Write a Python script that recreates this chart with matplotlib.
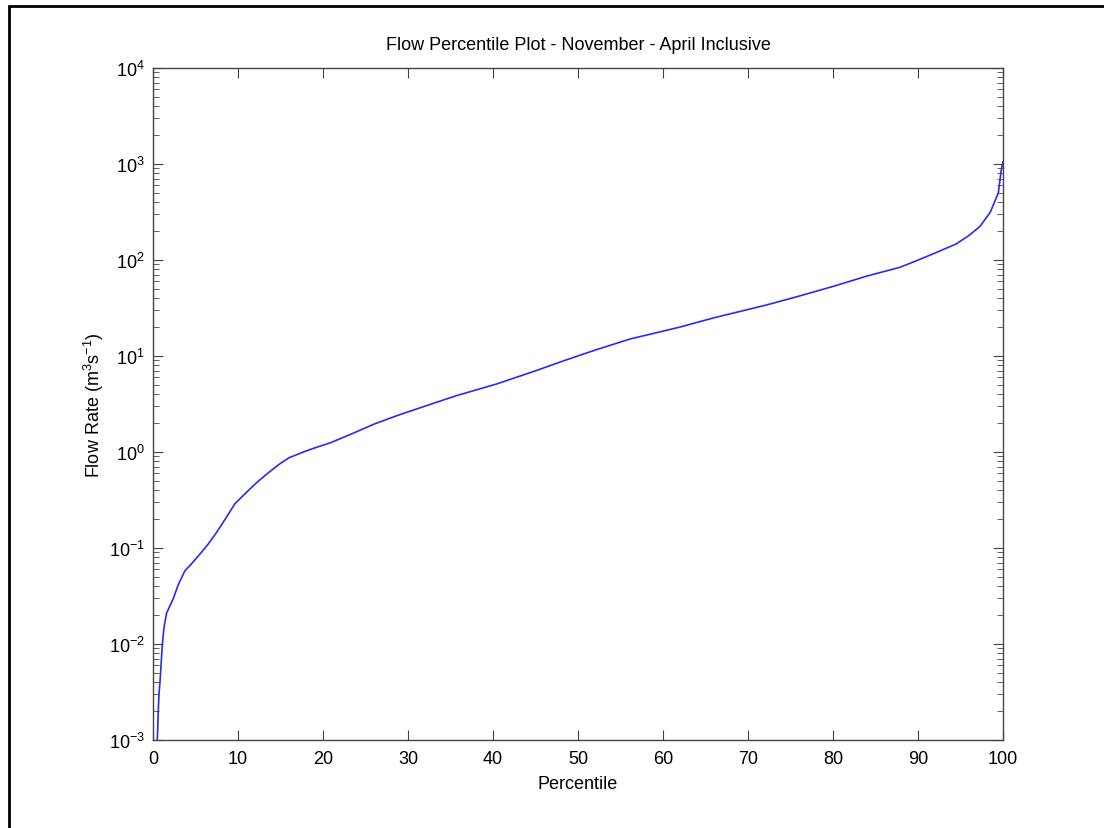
import matplotlib
matplotlib.use('Agg')
from matplotlib import pyplot as plt
from matplotlib.patches import Rectangle
from matplotlib.ticker import LogLocator, NullFormatter

plt.rcParams['font.family'] = ['Liberation Sans', 'DejaVu Sans']
plt.rcParams['mathtext.fontset'] = 'custom'
plt.rcParams['mathtext.rm'] = 'Liberation Sans'
plt.rcParams['mathtext.it'] = 'Liberation Sans'
plt.rcParams['axes.unicode_minus'] = False

# percentile vs flow rate
percentile = [0.5, 0.55, 0.62, 0.7, 0.82, 1.1, 1.3, 1.6, 2.0, 2.4, 3.0, 3.76, 4.5,
              5.7, 6.5, 7.5, 8.5, 9.65, 11.0, 12.2, 13.5, 14.9, 16.0, 17.7, 19.0,
              20.8, 23.2, 26.0, 28.7, 32.0, 35.7, 40.4, 45.0, 48.3, 52.0, 56.1,
              62.0, 66.0, 72.2, 76.0, 80.0, 84.0, 87.9, 89.8, 92.0, 94.5, 96.0,
              97.3, 98.5, 99.0, 99.45, 99.65, 99.8, 100.0]
flow = [0.001, 0.0013, 0.002, 0.003, 0.004, 0.01, 0.015, 0.021, 0.025, 0.03, 0.042,
        0.058, 0.068, 0.09, 0.11, 0.146, 0.2, 0.29, 0.38, 0.48, 0.6, 0.75, 0.87,
        1.0, 1.1, 1.24, 1.52, 1.95, 2.39, 3.0, 3.86, 5.1, 7.0, 8.9, 11.5, 15.0,
        20.0, 25.0, 34.0, 42.0, 53.0, 68.0, 84.0, 98.0, 118.0, 147.0, 180.0,
        224.0, 314.0, 400.0, 500.0, 680.0, 870.0, 1050.0]
yticks = [1e-3, 1e-2, 1e-1, 1e0, 1e1, 1e2, 1e3, 1e4]
ytick_labels = ['10$^{-3}$', '10$^{-2}$', '10$^{-1}$', '10$^{0}$',
                '10$^{1}$', '10$^{2}$', '10$^{3}$', '10$^{4}$']

fig = plt.figure(figsize=(11.04, 8.29), dpi=100)
ax = fig.add_axes([0.1386, 0.1062, 0.7699, 0.8106])

# outer frame of the original figure
fig.patches.append(Rectangle((9 / 1104, -0.05), 1.2, 1 - 7 / 829 + 0.05,
                             transform=fig.transFigure, fill=False,
                             edgecolor='black', linewidth=2))

ax.plot(percentile, flow, color='#2a2af0', linewidth=1.2)

ax.set_yscale('log')
ax.set_xlim(0, 100)
ax.set_ylim(1e-3, 1e4)
ax.set_xticks(range(0, 101, 10))
ax.set_yticks(yticks)
ax.set_yticklabels(ytick_labels)
ax.yaxis.set_minor_locator(LogLocator(base=10, subs=range(2, 10), numticks=20))
ax.yaxis.set_minor_formatter(NullFormatter())

for s in ax.spines.values():
    s.set_color('#444444')
    s.set_linewidth(1.0)
ax.tick_params(which='both', direction='in', top=True, right=True,
               color='#444444', labelsize=13, labelcolor='black')
ax.tick_params(which='major', length=7)
ax.tick_params(which='minor', length=4)
ax.tick_params(axis='x', pad=7)
ax.tick_params(axis='y', pad=6)

ax.set_title('Flow Percentile Plot - November - April Inclusive', fontsize=13, pad=14)
ax.set_xlabel('Percentile', fontsize=13, labelpad=6)
ax.set_ylabel('Flow Rate (m$^3$s$^{-1}$)', fontsize=13, labelpad=2)

fig.savefig('out.png', dpi=100)
